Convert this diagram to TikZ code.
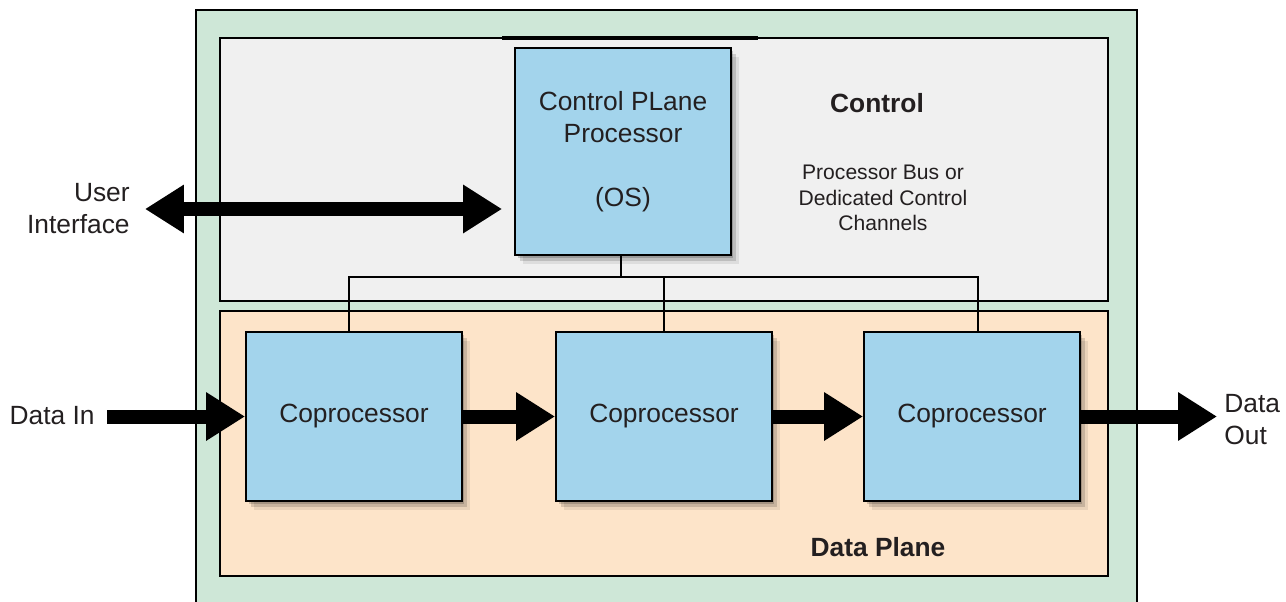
\documentclass[tikz,border=0pt]{standalone}
\usepackage{fontspec}
\setmainfont{Liberation Sans}
\usetikzlibrary{arrows.meta,shadows}

\definecolor{framegreen}{HTML}{CEE7D7}
\definecolor{ctrlgray}{HTML}{F0F0F0}
\definecolor{datapeach}{HTML}{FDE4C9}
\definecolor{unitblue}{HTML}{A3D4EC}
\definecolor{inkgray}{HTML}{231F20}

\tikzset{softshadow/.style={
    drop shadow={shadow xshift=0.05cm, shadow yshift=-0.06cm, opacity=0.18, fill=black},
    drop shadow={shadow xshift=0.10cm, shadow yshift=-0.12cm, opacity=0.14, fill=black},
    drop shadow={shadow xshift=0.16cm, shadow yshift=-0.18cm, opacity=0.08, fill=black}}}

\begin{document}
\begin{tikzpicture}[x=0.02cm, y=-0.02cm, font=\fontsize{15}{18.2}\selectfont, text=inkgray]
    \tikzstyle{plane} = [draw, line width=0.04cm, rectangle, minimum width=17.76cm, inner sep=0]
    \tikzstyle{unit} = [draw, line width=0.04cm, rectangle, fill=unitblue, minimum width=4.32cm, softshadow]
    \tikzstyle{bigarrow} = [line width=0.28cm, -{Triangle[length=0.78cm,width=0.92cm]}]
    \tikzstyle{bus} = [line width=0.04cm]
    \tikzstyle{caption} = [inner sep=0]
    \tikzstyle{heading} = [inner sep=0, font=\fontsize{15}{18.2}\selectfont\bfseries]
    \useasboundingbox (0,0) rectangle (1286,602);

    % Outer frame, open at the bottom
    \fill[framegreen] (196,10) rectangle (1137,602);
    \draw[line width=0.04cm] (196,602) -- (196,10) -- (1137,10) -- (1137,602);

    % Control plane area
    \node[plane, fill=ctrlgray, minimum height=5.26cm] (ctrl) at (664,169.5) {};
    \draw[line width=0.07cm] (502,38) -- (758,38);

    % Data plane area
    \node[plane, fill=datapeach, minimum height=5.3cm] (data) at (664,443.5) {};

    % Labels of the two areas
    \node[heading] (ctrllabel) at (877,103) {Control};
    \node[caption, align=center, font=\fontsize{12}{14.5}\selectfont] (buslabel) at (883,198)
         {Processor Bus or\\Dedicated Control\\Channels};
    \node[heading] (datalabel) at (878,547) {Data Plane};

    % Control plane processor
    \node[unit, minimum height=4.14cm, align=center] (cpp) at (623,151.5)
         {Control PLane\\Processor\\[18.2pt](OS)};

    % Coprocessors, left to right
    \node[unit, minimum height=3.38cm] (cop1) at (354,416.5) {Coprocessor};
    \node[unit, minimum height=3.38cm] (cop2) at (664,416.5) {Coprocessor};
    \node[unit, minimum height=3.38cm] (cop3) at (972,416.5) {Coprocessor};

    % Bus between the processor and the coprocessors
    \coordinate (bus) at (621,277);
    \draw[bus] ([xshift=-0.04cm]cpp.south) -- ([xshift=-0.04cm]cpp.south |- bus);
    \draw[bus] ([xshift=-0.1cm]cop1.north) |- ([xshift=0.12cm]cop3.north |- bus) -- ([xshift=0.12cm]cop3.north);
    \draw[bus] (cop2.north) -- (cop2.north |- bus);

    % Data path
    \coordinate (datain) at (107,416.5);
    \coordinate (dataout) at (1217,416.5);
    \draw[bigarrow] (datain) -- (cop1.west);
    \draw[bigarrow] (cop1) -- (cop2);
    \draw[bigarrow] (cop2) -- (cop3);
    \draw[bigarrow] (cop3) -- (dataout);

    % User interface
    \coordinate (ui) at (145,209);
    \draw[bigarrow, {Triangle[length=0.78cm,width=0.92cm]}-{Triangle[length=0.78cm,width=0.92cm]},
          shorten >=0.24cm] (ui) -- (ui -| cpp.west);

    % Outside labels
    \node[caption, anchor=east, align=right] (uilabel) at (130,209) {User\\Interface};
    \node[caption, anchor=east] (inlabel) at (95,416) {Data In};
    \node[caption, anchor=west, align=left] (outlabel) at (1224,420) {Data\\Out};
\end{tikzpicture}
\end{document}
